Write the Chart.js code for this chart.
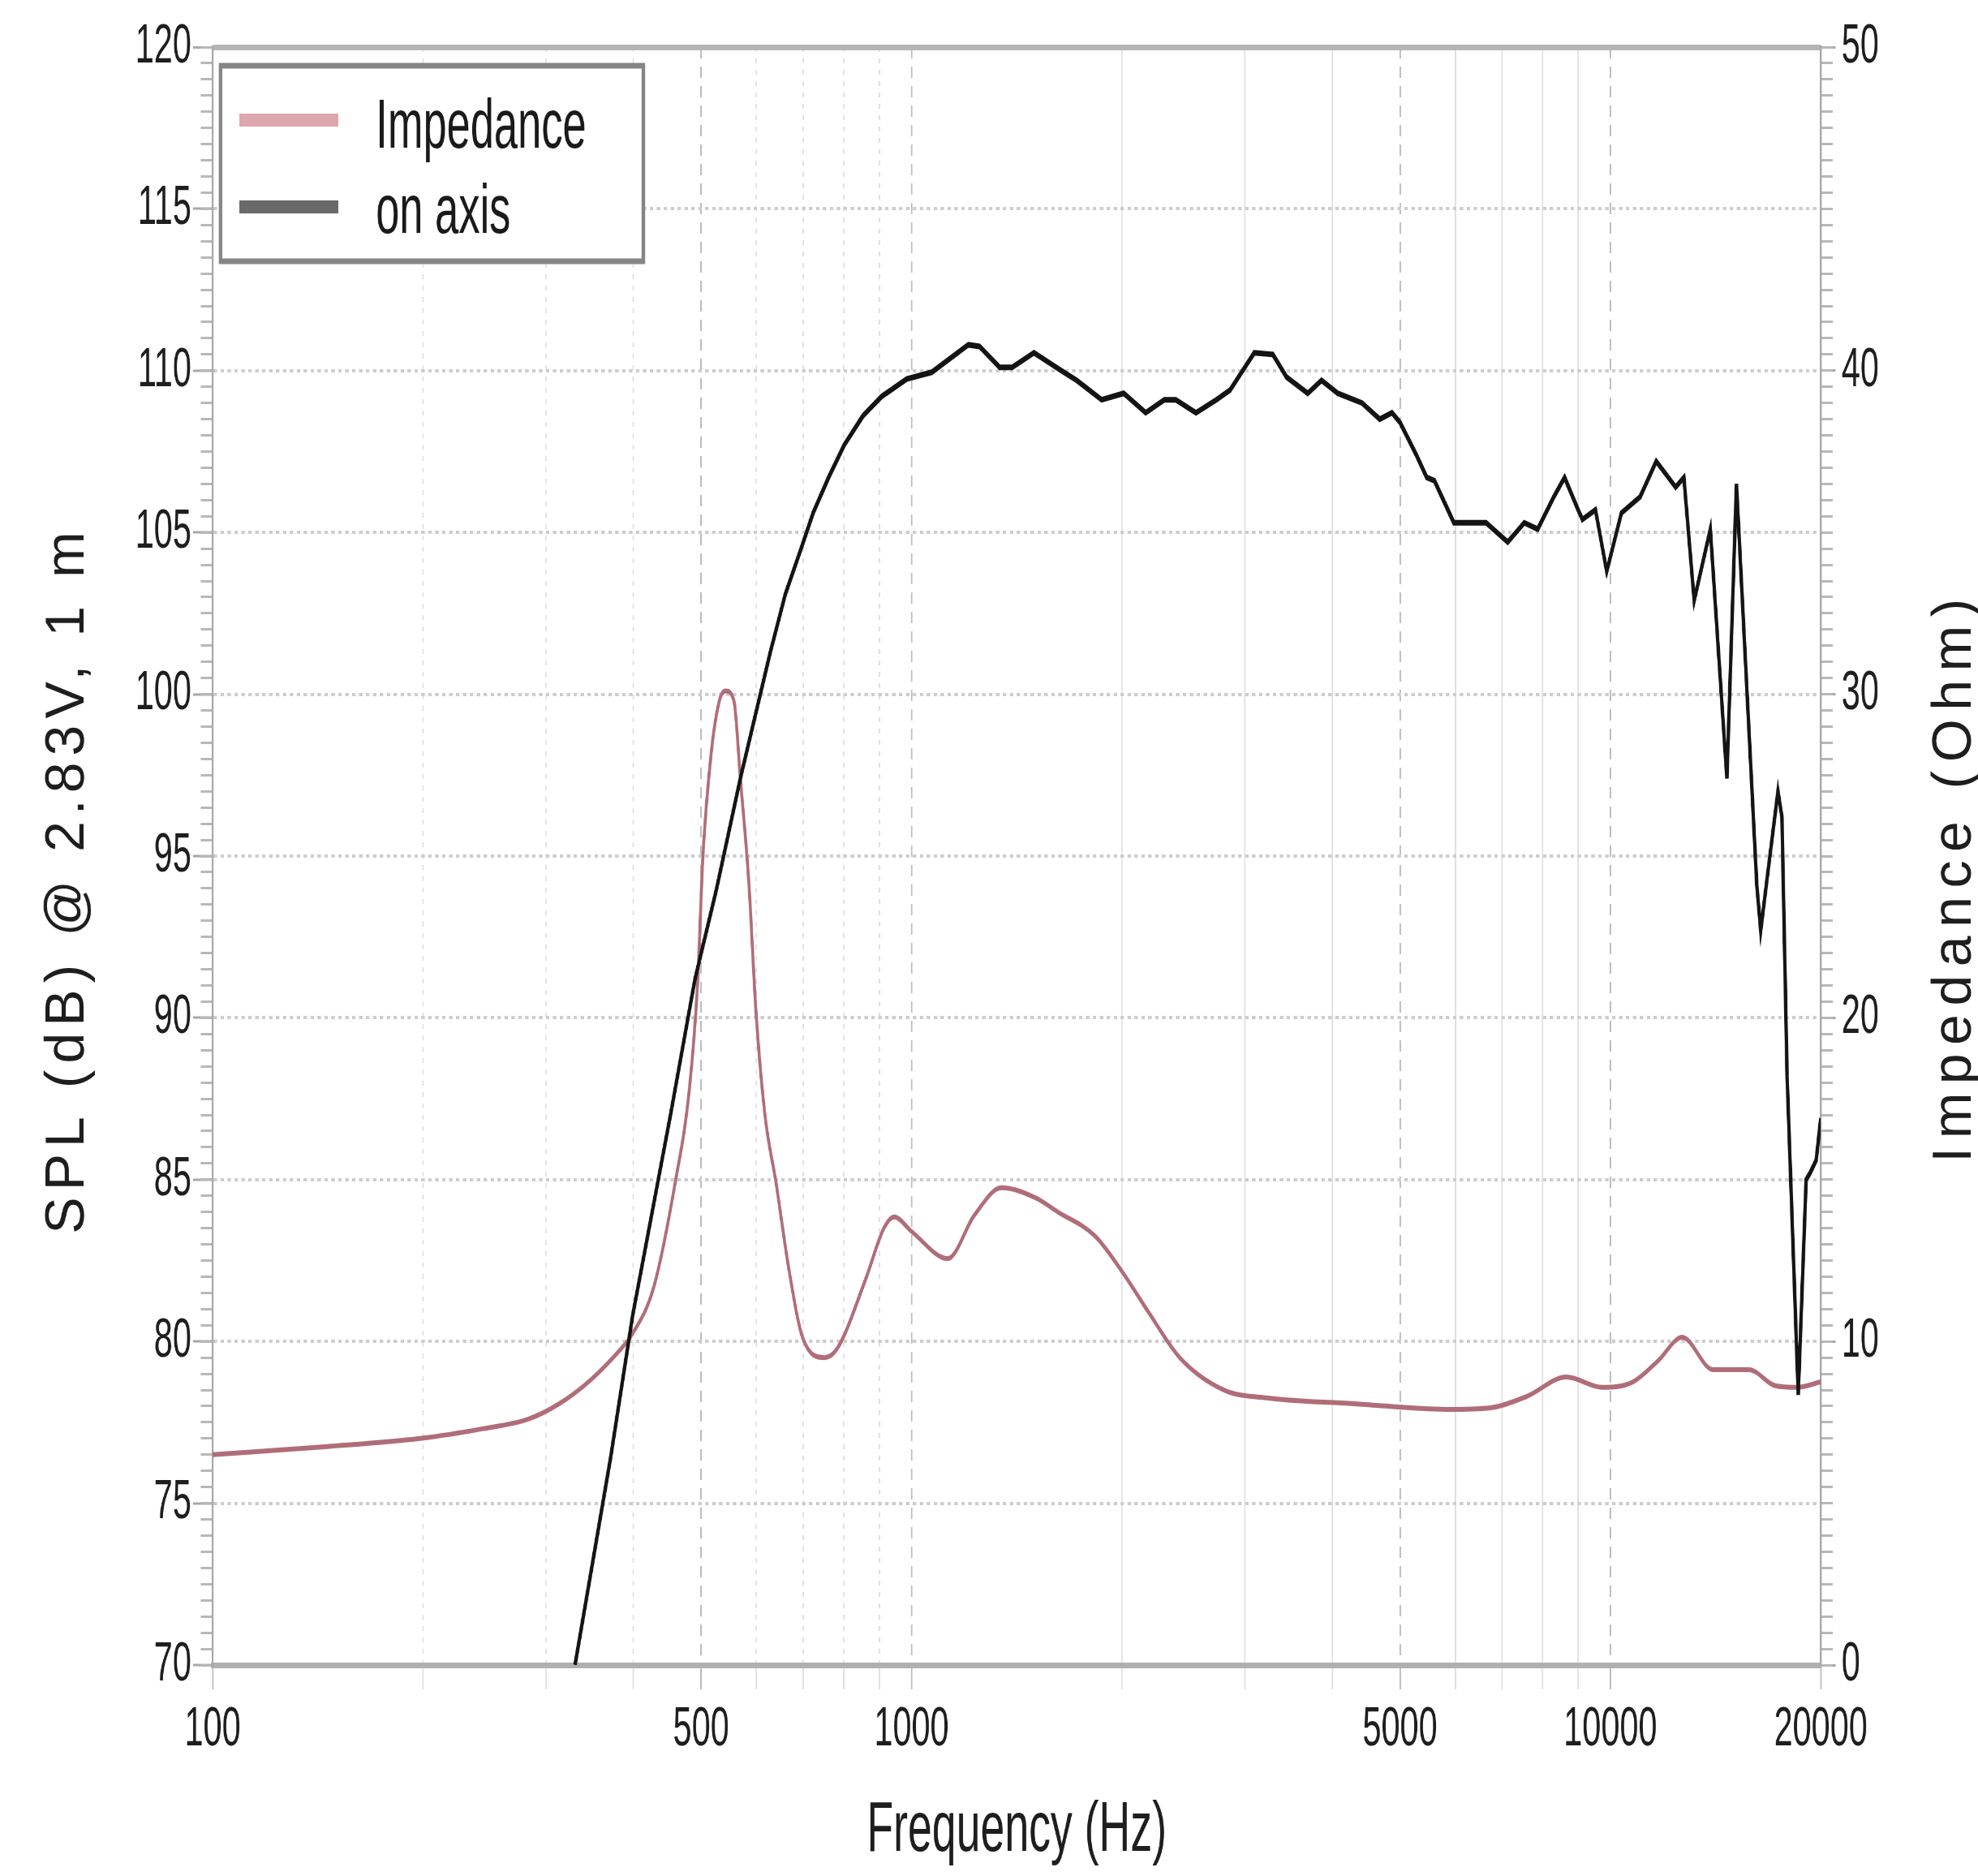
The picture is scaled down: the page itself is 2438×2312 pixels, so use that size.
<!DOCTYPE html>
<html>
<head>
<meta charset="utf-8">
<script src="https://cdn.jsdelivr.net/npm/chart.js@4.4.1/dist/chart.umd.min.js"></script>
<style>
  html, body { margin: 0; padding: 0; background: #fff; overflow: hidden; }
  canvas { display: block; }
</style>
</head>
<body>
<canvas id="chart" width="4000" height="2312" style="width:2438px;height:2312px"></canvas>
<script>
// the reference is squeezed sideways, so draw wide and show it narrow
const SQUEEZE = 2438 / 4000;

const impFreq = [100, 146, 198, 243, 283, 313, 347, 385, 395, 428, 459, 481, 494, 503, 517, 531, 542, 557, 569, 585,
  599, 617, 640, 668, 699, 751, 784, 859, 913, 945, 1000, 1127, 1230, 1345, 1504, 1620, 1830, 2010, 2184, 2420,
  2800, 3240, 4340, 5820, 6740, 7590, 8650, 9730, 10770, 11700, 12670, 14020, 15780, 17220, 18520, 20000];
const impOhm = [6.5, 6.75, 7.0, 7.3, 7.6, 8.07, 8.8, 9.8, 10.1, 11.7, 14.9, 17.8, 21.0, 25.0, 28.2, 29.8, 30.1, 29.8, 27.4, 24.2,
  20.2, 17.0, 14.9, 12.2, 10.1, 9.5, 9.8, 11.9, 13.5, 13.85, 13.4, 12.56, 13.9, 14.75, 14.44, 14.0, 13.26, 12.1, 10.9, 9.5,
  8.5, 8.25, 8.07, 7.9, 7.95, 8.3, 8.9, 8.58, 8.75, 9.4, 10.13, 9.13, 9.13, 8.63, 8.58, 8.75];

const splFreq = [330, 371, 399, 452, 490, 525, 569, 600, 628, 660, 695, 723, 761, 801, 852, 906, 984, 1069, 1206, 1251, 1337, 1393,
  1497, 1638, 1723, 1871, 2012, 2163, 2300, 2389, 2553, 2730, 2856, 2957, 3093, 3289, 3441, 3690, 3861, 4072, 4413, 4677,
  4870, 5000, 5275, 5460, 5600, 5970, 6640, 7130, 7530, 7870, 8300, 8600, 8990, 9120, 9520, 9880, 10370, 11030, 11630, 12400,
  12740, 13180, 13900, 14680, 15150, 16200, 16410, 16780, 17370, 17600, 17900, 18570, 19060, 19300, 19700, 20000];
const splDb = [70, 76.4, 80.8, 87.0, 91.2, 93.9, 97.4, 99.5, 101.3, 103.1, 104.5, 105.6, 106.7, 107.7, 108.6, 109.2, 109.74, 109.95, 110.8, 110.75, 110.1, 110.1,
  110.55, 110.0, 109.7, 109.1, 109.3, 108.7, 109.1, 109.1, 108.7, 109.1, 109.4, 109.9, 110.55, 110.5, 109.8, 109.3, 109.7, 109.3, 109.0, 108.5,
  108.7, 108.4, 107.4, 106.7, 106.6, 105.3, 105.3, 104.7, 105.3, 105.1, 106.1, 106.7, 105.7, 105.4, 105.7, 103.8, 105.6, 106.1, 107.2, 106.4,
  106.7, 102.9, 105.1, 97.4, 106.5, 94.1, 92.7, 94.4, 97.0, 96.2, 88.2, 78.35, 85.0, 85.2, 85.6, 86.9];

const xGridTicks = [100, 200, 300, 400, 500, 600, 700, 800, 900, 1000, 2000, 3000, 4000, 5000, 6000, 7000, 8000, 9000, 10000, 20000];
const xLabelTicks = [100, 500, 1000, 5000, 10000, 20000];

const xTitle = 'Frequency (Hz)';
const leftTitle = 'SPL (dB) @ 2.83V, 1 m';
const rightTitle = 'Impedance (Ohm)';

Chart.defaults.font.family = "'Liberation Sans', Arial, sans-serif";
Chart.defaults.color = '#1e1e1e';

const isLabelTick = c => c.tick && xLabelTicks.includes(c.tick.value);
const isFrame = c => c.tick && (c.tick.value === 70 || c.tick.value === 120);

// rotated titles are drawn unsqueezed, legend in the squeezed space like the rest
const extras = {
  id: 'extras',
  afterDatasetsDraw(chart) {
    const { ctx, chartArea: a } = chart;
    const bx = a.left + 16, by = a.top + 23, bw = 855, bh = 241;
    ctx.save();
    ctx.fillStyle = '#fff';
    ctx.fillRect(bx, by, bw, bh);
    ctx.lineWidth = 7;
    ctx.strokeStyle = '#858585';
    ctx.strokeRect(bx, by, bw, bh);
    ctx.font = "86px 'Liberation Sans', Arial, sans-serif";
    ctx.textBaseline = 'alphabetic';
    chart.data.datasets.forEach((ds, i) => {
      const yLine = by + 67 + i * 107;
      ctx.strokeStyle = ds.legendColor;
      ctx.lineWidth = 16;
      ctx.beginPath();
      ctx.moveTo(bx + 38, yLine);
      ctx.lineTo(bx + 238, yLine);
      ctx.stroke();
      ctx.fillStyle = '#1a1a1a';
      ctx.fillText(ds.label, bx + 314, by + 101 + i * 105);
    });
    ctx.restore();
  },
  afterDraw(chart) {
    const { ctx, chartArea: a, scales } = chart;
    const mid = (a.top + a.bottom) / 2;
    const rotated = (text, x, y, spacing) => {
      ctx.save();
      ctx.translate(x, y);
      ctx.scale(1 / SQUEEZE, 1);
      ctx.rotate(-Math.PI / 2);
      ctx.font = "68px 'Liberation Sans', Arial, sans-serif";
      ctx.letterSpacing = spacing + 'px';
      ctx.fillStyle = '#1e1e1e';
      ctx.textAlign = 'center';
      ctx.textBaseline = 'middle';
      ctx.fillText(text, 0, 0);
      ctx.restore();
    };
    rotated(leftTitle, scales.y.left + 138, mid + 29, 8);
    rotated(rightTitle, scales.y2.right - 46, mid + 25, 10.5);
  }
};

new Chart(document.getElementById('chart'), {
  type: 'line',
  data: {
    datasets: [
      {
        label: 'Impedance',
        yAxisID: 'y2',
        data: impFreq.map((f, i) => ({ x: f, y: impOhm[i] })),
        borderColor: '#b06d79',
        legendColor: '#dea7b0',
        borderWidth: 6,
        pointRadius: 0,
        cubicInterpolationMode: 'monotone',
        order: 1
      },
      {
        label: 'on axis',
        yAxisID: 'y',
        data: splFreq.map((f, i) => ({ x: f, y: splDb[i] })),
        borderColor: '#141414',
        legendColor: '#6a6a6a',
        borderWidth: 7,
        pointRadius: 0,
        tension: 0,
        order: 0
      }
    ]
  },
  options: {
    responsive: false,
    animation: false,
    devicePixelRatio: 1,
    layout: { padding: { top: 58, left: 0, right: 0, bottom: 0 } },
    plugins: { legend: { display: false }, tooltip: { enabled: false } },
    scales: {
      x: {
        type: 'logarithmic',
        min: 100,
        max: 20000,
        afterBuildTicks: s => { s.ticks = xGridTicks.map(v => ({ value: v })); },
        afterFit: s => { s.height = 260; },
        ticks: {
          autoSkip: false,
          maxRotation: 0,
          padding: 9,
          font: { size: 68 },
          callback: v => xLabelTicks.includes(v) ? String(v) : ''
        },
        grid: {
          color: c => isLabelTick(c) ? '#bcbcbc' : '#e0e0e0',
          lineWidth: 3,
          tickLength: 30,
          tickWidth: 3,
          tickColor: c => isLabelTick(c) ? '#bcbcbc' : '#e0e0e0'
        },
        border: {
          color: '#b0b0b0',
          width: 7,
          dash: c => {
            if (!c.tick) return [];
            if (isLabelTick(c)) return [14, 10];
            return c.tick.value < 1000 ? [6, 8] : [];
          }
        },
        title: { display: true, text: xTitle, font: { size: 88 }, padding: { top: 0, bottom: 2 } }
      },
      y: {
        position: 'left',
        weight: 1,
        min: 70,
        max: 120,
        afterFit: s => { s.width = 430; },
        ticks: { stepSize: 5, padding: 3, font: { size: 68 } },
        grid: {
          color: c => isFrame(c) ? '#b5b5b5' : '#cdcdcd',
          lineWidth: c => c.tick && c.tick.value === 120 ? 7 : 4,
          tickLength: 40,
          tickWidth: 3,
          tickColor: '#a8a8a8'
        },
        border: { color: '#a8a8a8', width: 4, dash: c => isFrame(c) || !c.tick ? [] : [7, 7] }
      },
      yMinor: {
        position: 'left',
        weight: 0,
        min: 70,
        max: 120,
        afterFit: s => { s.width = 0; },
        ticks: { display: false, stepSize: 0.5 },
        grid: { drawOnChartArea: false, tickLength: 24, tickWidth: 3, tickColor: '#b8b8b8' },
        border: { display: false }
      },
      y2: {
        position: 'right',
        weight: 1,
        min: 0,
        max: 50,
        afterFit: s => { s.width = 318; },
        ticks: { stepSize: 10, padding: 12, font: { size: 68 } },
        grid: { drawOnChartArea: false, tickLength: 30, tickWidth: 3, tickColor: '#a8a8a8' },
        border: { color: '#a8a8a8', width: 4 }
      },
      y2Minor: {
        position: 'right',
        weight: 0,
        min: 0,
        max: 50,
        afterFit: s => { s.width = 0; },
        ticks: { display: false, stepSize: 0.5 },
        grid: { drawOnChartArea: false, tickLength: 24, tickWidth: 3, tickColor: '#b8b8b8' },
        border: { display: false }
      }
    }
  },
  plugins: [extras]
});
</script>
</body>
</html>
